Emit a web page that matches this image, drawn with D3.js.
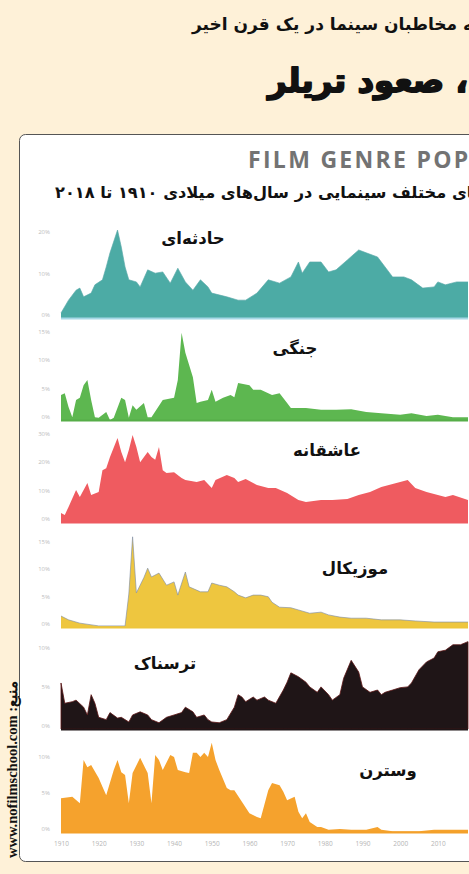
<!DOCTYPE html>
<html><head><meta charset="utf-8">
<script src="https://cdn.jsdelivr.net/npm/d3@7"></script>
<style>html,body{margin:0;padding:0;background:#FEF1D8;overflow:hidden;}svg{display:block}</style>
</head><body><svg id="c" width="469" height="874"></svg>
<script>
// ---- data ----
const genres = ["حادثه‌ای","جنگی","عاشقانه","موزیکال","ترسناک","وسترن"];
const action = [[1910,1.2],[1912,4.3],[1914,6.7],[1915,7.2],[1916,5.1],[1918,6.0],[1919,8.0],[1921,9.2],[1922,12.3],[1923,15.7],[1925,21.2],[1926,17.1],[1927,12.3],[1928,9.2],[1930,8.7],[1931,7.5],[1933,11.6],[1935,10.8],[1937,11.1],[1939,8.4],[1941,12],[1943,8.7],[1945,6.7],[1947,9.2],[1949,7.5],[1950,6],[1954,5.1],[1957,4.3],[1959,4.3],[1962,6],[1965,9.2],[1968,8.4],[1971,9.9],[1973,13.5],[1974,10.8],[1976,13.5],[1979,13.5],[1981,11.1],[1983,11.6],[1986,14],[1989,16.4],[1991,15.7],[1994,14.7],[1996,12.3],[1998,9.9],[2001,9.9],[2003,9.2],[2006,7.2],[2009,7.5],[2010,8.7],[2012,8],[2015,8.7],[2018,8.7]];
const war = [[1910,4.4],[1911,4.7],[1912,2.3],[1913,0.5],[1914,3.5],[1915,3.9],[1916,6.1],[1917,7.0],[1918,3.5],[1919,0.5],[1920,0.4],[1922,1.4],[1923,0],[1924,0.4],[1926,3.9],[1927,3.5],[1928,0.4],[1929,2.6],[1930,1.8],[1932,3],[1933,0.5],[1934,0.5],[1937,3.5],[1940,3.9],[1941,7],[1942,15.3],[1943,11.8],[1945,7.5],[1946,3],[1947,3.2],[1949,3.5],[1950,5.3],[1951,3.2],[1953,3.9],[1955,4.4],[1956,4],[1957,6.5],[1960,6.1],[1961,5.3],[1963,5.3],[1966,4.4],[1968,4.7],[1970,3],[1971,2.1],[1975,2.1],[1979,1.8],[1983,1.8],[1987,1.9],[1991,1.4],[1995,1.2],[2000,0.9],[2003,1.2],[2007,0.7],[2010,0.9],[2014,0.5],[2018,0.5]];
const romance = [[1910,3.2],[1911,2.5],[1912,5.3],[1914,11.2],[1915,8.8],[1917,13.7],[1918,9.5],[1920,10.5],[1921,18.2],[1922,18.9],[1923,22.8],[1925,29.5],[1926,24.6],[1927,21],[1928,25.3],[1929,30.5],[1930,26.3],[1931,21],[1933,24.6],[1934,22.8],[1935,21.8],[1936,26.3],[1937,18.2],[1938,17.2],[1940,17.5],[1942,15.4],[1943,14.7],[1946,14],[1948,14.7],[1950,11.9],[1951,14.7],[1954,16.5],[1956,15.4],[1957,14],[1959,15.1],[1962,13],[1965,11.9],[1967,11.9],[1970,10.2],[1973,7.7],[1975,7],[1979,7.7],[1982,7.7],[1986,8.1],[1989,9.5],[1992,10.5],[1995,12.3],[1999,13.7],[2002,14.7],[2004,11.9],[2007,10.5],[2010,9.5],[2012,8.8],[2014,9.5],[2018,7.7]];
const musical = [[1910,2.0],[1912,1.3],[1915,0.7],[1920,0.2],[1927,0.2],[1928,6],[1929,16.4],[1930,6.2],[1932,9],[1933,10.7],[1934,9.1],[1936,9.8],[1938,7.6],[1940,8.2],[1941,5.8],[1943,10],[1944,7.3],[1947,6.4],[1949,6.4],[1950,8],[1952,7.6],[1954,7.3],[1956,6.4],[1957,5.8],[1959,5.3],[1961,5.8],[1963,5.8],[1965,5.5],[1966,4.5],[1968,3.6],[1971,3.5],[1973,3.1],[1976,2.5],[1979,2.7],[1981,2.2],[1984,1.8],[1987,1.6],[1991,1.6],[1995,1.3],[2000,1.3],[2004,1.1],[2009,0.9],[2013,0.9],[2018,0.9]];
const horror = [[1910,5.9],[1911,3.3],[1913,3.5],[1914,3.7],[1916,2.8],[1917,1.8],[1918,4.4],[1919,3.3],[1920,1.5],[1922,1.2],[1923,2.1],[1925,1.4],[1926,1.5],[1928,0.9],[1929,1.8],[1931,2.2],[1933,1.8],[1934,1.2],[1936,0.8],[1938,1.5],[1940,1.8],[1942,2.1],[1943,2.8],[1945,2.2],[1946,1.5],[1948,1.8],[1949,1.2],[1950,0.9],[1952,0.8],[1954,1.2],[1956,2.8],[1957,4.4],[1958,4.1],[1959,3.5],[1961,4.1],[1962,3.7],[1964,4.1],[1965,3.7],[1967,3.3],[1969,5],[1970,6],[1971,7.2],[1973,6.7],[1975,6],[1976,5.4],[1978,4.7],[1979,5.4],[1981,4.4],[1982,3.7],[1984,4.4],[1985,6.5],[1987,8.8],[1989,7.3],[1990,5.4],[1992,4.7],[1994,5],[1995,4.4],[1996,4.7],[1998,5],[2000,5.3],[2002,5.4],[2003,5.9],[2005,7.6],[2007,8.6],[2009,9.1],[2010,9.9],[2012,10.1],[2014,10.8],[2016,10.8],[2018,11.2]];
const western = [[1910,4.7],[1913,4.9],[1915,4.0],[1916,10],[1917,9],[1918,9.3],[1920,7.5],[1921,6.3],[1922,5.1],[1924,8.6],[1925,10],[1926,8.3],[1927,7.9],[1928,4],[1929,8.2],[1931,10.3],[1933,8.2],[1934,4],[1935,10.7],[1936,10],[1937,8.6],[1939,10.7],[1940,10.4],[1941,8.6],[1943,8.3],[1944,8.2],[1945,11],[1946,11],[1947,10.4],[1948,11],[1949,10.4],[1950,12.4],[1951,10],[1952,8.6],[1954,6.1],[1955,5.8],[1956,5.8],[1958,4.2],[1960,2.6],[1962,2.1],[1963,1.9],[1965,5.8],[1966,6.8],[1968,6.5],[1969,5.6],[1970,4.4],[1972,4.9],[1973,2.8],[1974,1.9],[1975,2.6],[1976,1.4],[1978,0.7],[1979,0.7],[1981,0.3],[1984,0.4],[1987,0.3],[1991,0.3],[1994,0.7],[1995,0.3],[1998,0.1],[2005,0.1],[2009,0.3],[2014,0.3],[2018,0.3]];
const yTickValues = [[0,10,20],[0,5,10,15],[0,10,20,30],[0,5,10,15],[0,5,10],[0,5,10]];
const xTickYears = [1910,1920,1930,1940,1950,1960,1970,1980,1990,2000,2010];

// ---- layout / style ----
const series = [action, war, romance, musical, horror, western];
const panels = [
  {zero:318, ppu:4.15, fill:"#4CABA5", stroke:"#5aa8a8", base:"#a6d8e6", lx:193, ly:244},
  {zero:420, ppu:5.7,  fill:"#5DB750", stroke:"none",    base:"#56ad48", lx:295, ly:354},
  {zero:522, ppu:2.85, fill:"#EF5B60", stroke:"none",    base:"#ee5a60", lx:327, ly:456},
  {zero:627, ppu:5.5,  fill:"#EEC63F", stroke:"#7f8ea6", base:"#edc53c", lx:355, ly:574},
  {zero:729, ppu:7.8,  fill:"#1F1517", stroke:"#5b1414", base:"#1f1517", lx:165, ly:669},
  {zero:832, ppu:7.2,  fill:"#F5A22D", stroke:"none",    base:"#f3a02a", lx:388, ly:776}
];
const fa = "'DejaVu Sans', sans-serif";
const svg = d3.select("#c");

// background
svg.append("rect").attr("width",469).attr("height",874).attr("fill","#FEF1D8");

// headlines (cut off at the right edge as in the source)
svg.append("text").attr("x",192).attr("y",30).attr("direction","rtl").attr("text-anchor","end")
  .attr("font-family",fa).attr("font-weight",700).attr("font-size",17).attr("fill","#111")
  .text("تغییر علاقه مخاطبان سینما در یک قرن اخیر");
svg.append("text").attr("x",268).attr("y",92).attr("direction","rtl").attr("text-anchor","end")
  .attr("font-family",fa).attr("font-weight",700).attr("font-size",32.5).attr("fill","#111")
  .attr("stroke","#111").attr("stroke-width",1.8).attr("stroke-linejoin","round")
  .text("افول وسترن و موزیکال، صعود تریلر");

// card
svg.append("rect").attr("x",19.5).attr("y",134.5).attr("width",480).attr("height",727)
  .attr("rx",6).attr("fill","#fff").attr("stroke","#555").attr("stroke-width",1);

svg.append("text").attr("x",248).attr("y",168).attr("font-family","'Open Sans', sans-serif")
  .attr("font-weight",700).attr("font-size",23).attr("fill","#737373").attr("letter-spacing",2.3)
  .text("FILM GENRE POPULARITY 1910-2018");
svg.append("text").attr("x",55).attr("y",198).attr("direction","rtl").attr("text-anchor","end")
  .attr("font-family",fa).attr("font-weight",700).attr("font-size",16.2).attr("fill","#111")
  .text("محبوبیت ژانرهای مختلف سینمایی در سال‌های میلادی ۱۹۱۰ تا ۲۰۱۸");

// source, vertical
svg.append("text").attr("transform","translate(17,858) rotate(-90)")
  .attr("font-family","'Liberation Serif', serif").attr("font-weight",700).attr("font-size",14.5)
  .attr("fill","#111").text("www.nofilmschool.com :منبع");

// scales
const x = d3.scaleLinear().domain([1910,2018]).range([61,468]);

panels.forEach((p,i) => {
  const data = series[i];
  const maxV = d3.max(yTickValues[i]) * 1.25;
  const y = d3.scaleLinear().domain([0, maxV]).range([p.zero, p.zero - maxV*p.ppu]);
  const g = svg.append("g");
  const area = d3.area().x(d=>x(d[0])).y0(y(0)).y1(d=>y(d[1]));
  g.append("path").datum(data).attr("d",area).attr("fill",p.fill)
    .attr("stroke", i===4 ? p.stroke : "none").attr("stroke-width",0.8);
  if (p.stroke !== "none" && i!==4) {
    g.append("path").datum(data).attr("d", d3.line().x(d=>x(d[0])).y(d=>y(d[1])))
      .attr("fill","none").attr("stroke",p.stroke).attr("stroke-width",0.8).attr("stroke-opacity",0.8);
  }
  g.append("line").attr("x1",x(1910)).attr("x2",x(2018)).attr("y1",p.zero+0.5).attr("y2",p.zero+0.5)
    .attr("stroke",p.base).attr("stroke-width",2);
  // y axis
  const ax = svg.append("g").attr("transform","translate(50,-3)")
    .call(d3.axisLeft(y).tickValues(yTickValues[i]).tickSize(0).tickPadding(0).tickFormat(d=>d+"%"));
  ax.select(".domain").remove();
  ax.selectAll("text").attr("font-family","'Open Sans', sans-serif").attr("font-size",6).attr("fill","#bdbdbd");
  // genre label
  svg.append("text").attr("x",p.lx).attr("y",p.ly).attr("text-anchor","middle")
    .attr("font-family",fa).attr("font-weight",700).attr("font-size",16.5).attr("fill","#111")
    .text(genres[i]);
});

// x axis
const xa = svg.append("g").attr("transform","translate(0,838)")
  .call(d3.axisBottom(x).tickValues(xTickYears).tickSize(0).tickPadding(3).tickFormat(d3.format("d")));
xa.select(".domain").remove();
xa.selectAll("text").attr("font-family","'Open Sans', sans-serif").attr("font-size",6.5).attr("fill","#b5b5b5");
</script>
</body></html>
